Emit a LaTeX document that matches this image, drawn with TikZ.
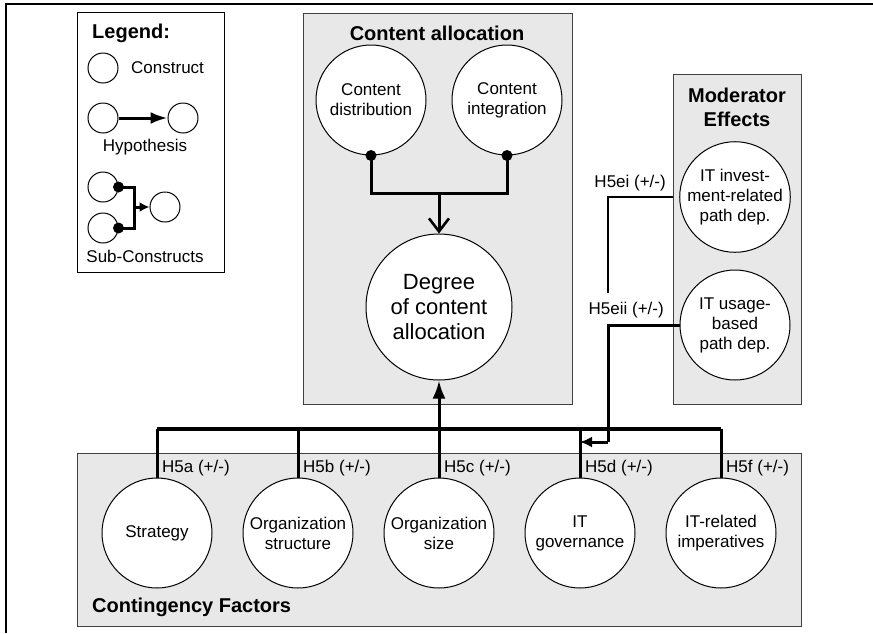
\documentclass[tikz,border=0pt]{standalone}
\usepackage{fontspec}
\setmainfont{Liberation Sans}
\usetikzlibrary{arrows.meta,calc}
\definecolor{panelgray}{HTML}{E8E8E8}
\definecolor{framegray}{HTML}{404040}

\begin{document}
\begin{tikzpicture}[x=1pt,y=-1pt,
  txt/.style={font=\fontsize{17}{20}\selectfont,inner sep=0pt,align=center},
  head/.style={font=\fontsize{20}{24}\selectfont\bfseries,inner sep=0pt,align=center},
  panel/.style={draw=framegray,fill=panelgray,line width=1.2pt,anchor=north west,inner sep=0pt},
  legendpanel/.style={draw=black,fill=white,line width=1pt,anchor=north west,inner sep=0pt},
  construct/.style={circle,draw=black,line width=1pt,fill=white,inner sep=0pt,
    minimum size=110pt,align=center,font=\fontsize{17}{20}\selectfont},
  bigconstruct/.style={construct,minimum size=146pt,font=\fontsize{22}{25}\selectfont},
  mini/.style={circle,draw=black,line width=1pt,fill=white,inner sep=0pt,minimum size=30pt},
  conn/.style={draw=black,line width=3pt},
  thinconn/.style={draw=black,line width=2.3pt},
  busline/.style={draw=black,line width=3.4pt},
  dot/.style={fill=black}]

\useasboundingbox (0,0) rectangle (873,633);

% outer frame (only the top and left edges are visible)
\draw[line width=1.3pt] (6,633) -- (6,4) -- (873,4);

% ---------- panels ----------
\node[legendpanel,minimum width=147pt,minimum height=260pt] (legendbox) at (77,12) {};
\node[panel,minimum width=269pt,minimum height=391pt] (allocbox) at (303,13) {};
\node[panel,minimum width=128pt,minimum height=330pt] (modbox) at (673,74) {};
\node[panel,minimum width=724pt,minimum height=173pt] (contbox) at (77,453) {};

% ---------- legend ----------
\node[head,anchor=west] (legtitle) at (92,33) {Legend:};
\node[mini] (lc) at (103,68) {};
\node[txt,anchor=west] (lctext) at (131,68) {Construct};
\node[mini] (lh1) at (103,118) {};
\node[mini] (lh2) at (183,118) {};
\draw[conn,-{Latex[length=17pt,width=12pt]}] (lh1) -- (lh2);
\node[txt] (lhtext) at (145,147) {Hypothesis};
\node[mini] (ls1) at (103,187) {};
\node[mini] (ls2) at (103,228) {};
\node[mini] (ls3) at (165,207) {};
\coordinate (lsj) at (134,207);
\draw[conn] (ls1.east) -| (lsj) |- (ls2.east);
\draw[conn,-{Latex[length=10pt,width=10pt]}] (lsj) -- (ls3);
\fill[dot] (ls1.east) circle (5.5);
\fill[dot] (ls2.east) circle (5.5);
\node[txt] (lstext) at (145,256) {Sub-Constructs};

% ---------- content allocation ----------
\node[head] (alloctitle) at (437,33) {Content allocation};
\node[construct] (cdist) at (371,100) {Content\\distribution};
\node[construct] (cint) at (507,100) {Content\\integration};
\node[bigconstruct] (degree) at (439,307) {Degree\\of content\\allocation};
\coordinate (cj) at (439,193);
\draw[conn] (cdist.south) |- (cj) -| (cint.south);
\draw[conn,-{Straight Barb[length=13pt,width=20pt,line width=2.6pt]}] (cj) -- (degree.north);
\fill[dot] (cdist.south) circle (5.5);
\fill[dot] (cint.south) circle (5.5);

% ---------- moderator effects ----------
\node[head] (modtitle) at (737,107) {Moderator\\Effects};
\node[construct] (mod1) at (735,197) {IT invest-\\ment-related\\path dep.};
\node[construct] (mod2) at (735,325) {IT usage-\\based\\path dep.};

% ---------- contingency factors ----------
\node[head,anchor=west] (conttitle) at (92,607) {Contingency Factors};
\node[construct] (strat) at (157,533) {Strategy};
\node[construct] (ostruct) at (298,533) {Organization\\structure};
\node[construct] (osize) at (439,533) {Organization\\size};
\node[construct] (itgov) at (580,533) {IT\\governance};
\node[construct] (itimp) at (721,533) {IT-related\\imperatives};

% ---------- hypotheses ----------
\coordinate (bus) at (439,429);
\draw[conn] (strat.north) -- (strat.north |- bus);
\draw[conn] (ostruct.north) -- (ostruct.north |- bus);
\draw[conn] (itgov.north) -- (itgov.north |- bus);
\draw[conn] (itimp.north) -- (itimp.north |- bus);
\draw[busline] (strat.north |- bus) -- (itimp.north |- bus);
\draw[conn,-{Latex[length=18pt,width=13pt]}] (osize.north) -- (degree.south);

% moderator paths: the upper one stops at the H5eii label
\coordinate (mj) at (608,442);
\coordinate (mstop) at (608,293);
\draw[thinconn] (mod1.west -| modbox.west) -| (mstop);
\draw[conn] (mod2.west) -| (mj);
\draw[conn,-{Latex[length=12pt,width=11pt]}] (mj) -- (itgov.north |- mj);

\node[txt,anchor=west] (h5a) at (162,468) {H5a (+/-)};
\node[txt,anchor=west] (h5b) at (303,468) {H5b (+/-)};
\node[txt,anchor=west] (h5c) at (444,468) {H5c (+/-)};
\node[txt,anchor=west] (h5d) at (585,468) {H5d (+/-)};
\node[txt,anchor=west] (h5f) at (726,468) {H5f (+/-)};
\node[txt,anchor=east] (h5ei) at (666,183) {H5ei (+/-)};
\node[txt,anchor=east] (h5eii) at (664,310) {H5eii (+/-)};

\end{tikzpicture}
\end{document}
